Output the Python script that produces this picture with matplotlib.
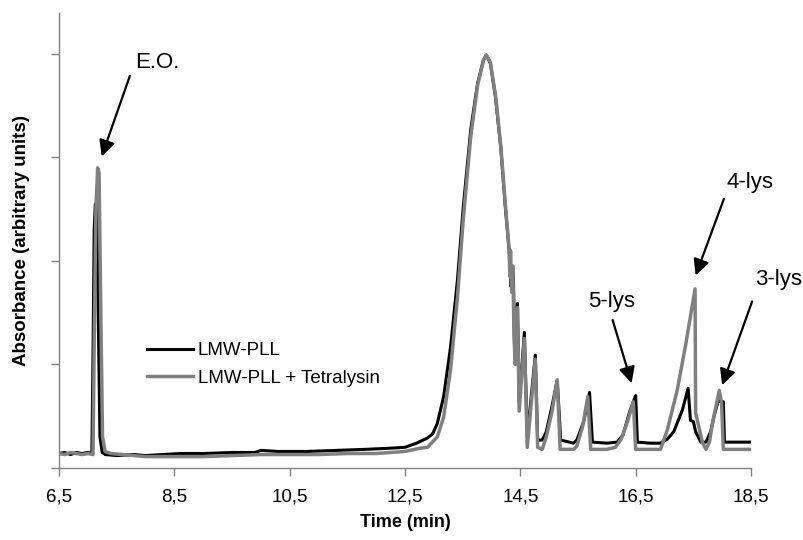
import matplotlib
matplotlib.use("Agg")
import matplotlib.pyplot as plt

plt.rcParams['font.family'] = ['Liberation Sans', 'DejaVu Sans']

# ---- data (time in min, absorbance in arbitrary units) ----
t_black = [6.50, 6.60, 6.70, 6.80, 6.90, 7.00, 7.07, 7.09, 7.11, 7.13, 7.155, 7.18, 7.21, 7.25,
           7.30, 7.50, 7.80, 8.00, 8.30, 8.60, 9.00, 9.50, 9.90, 10.00, 10.30, 10.80, 11.30,
           11.80, 12.20, 12.50, 12.70, 12.89, 12.98, 13.06, 13.17, 13.29, 13.41, 13.51, 13.64,
           13.76, 13.86, 13.91, 13.98, 14.07, 14.16, 14.24, 14.30, 14.32, 14.34, 14.36, 14.38,
           14.40, 14.45, 14.48, 14.57, 14.62, 14.76, 14.80, 14.88, 14.95, 15.05, 15.14, 15.20,
           15.42, 15.48, 15.60, 15.70, 15.75, 16.00, 16.18, 16.28, 16.40, 16.50, 16.53, 16.75,
           16.93, 17.05, 17.16, 17.31, 17.41, 17.45, 17.50, 17.54, 17.63, 17.72, 17.80, 17.86,
           17.95, 17.97, 18.02, 18.04, 18.50]
y_black = [0.14, 0.15, 0.13, 0.15, 0.14, 0.15, 0.14, 1.10, 2.30, 2.55, 2.50, 1.50, 0.30, 0.15,
           0.13, 0.12, 0.13, 0.12, 0.13, 0.14, 0.14, 0.15, 0.15, 0.17, 0.16, 0.16, 0.17,
           0.18, 0.19, 0.20, 0.24, 0.29, 0.33, 0.43, 0.69, 1.17, 1.82, 2.52, 3.27,
           3.72, 3.94, 3.99, 3.91, 3.58, 3.10, 2.52, 2.14, 2.00, 1.75, 1.95, 1.86,
           1.14, 1.59, 0.63, 1.31, 0.30, 1.09, 0.27, 0.27, 0.35, 0.60, 0.85, 0.27,
           0.24, 0.27, 0.45, 0.73, 0.25, 0.24, 0.25, 0.32, 0.55, 0.70, 0.25, 0.24,
           0.24, 0.28, 0.35, 0.56, 0.77, 0.46, 0.45, 0.35, 0.25, 0.25, 0.35, 0.50,
           0.69, 0.64, 0.64, 0.25, 0.25]

t_gray = [6.50, 6.60, 6.70, 6.80, 6.90, 7.00, 7.09, 7.11, 7.14, 7.17, 7.195, 7.225, 7.255, 7.30,
          7.40, 7.60, 8.00, 8.50, 9.00, 9.50, 10.00, 10.50, 11.00, 11.50, 12.00, 12.50, 12.75,
          12.89, 13.06, 13.17, 13.29, 13.41, 13.51, 13.64, 13.76, 13.86, 13.91, 13.98, 14.07,
          14.16, 14.24, 14.30, 14.32, 14.33, 14.35, 14.37, 14.39, 14.41, 14.45, 14.48, 14.57,
          14.62, 14.76, 14.80, 14.88, 14.95, 15.05, 15.14, 15.19, 15.42, 15.48, 15.58, 15.67,
          15.72, 16.00, 16.15, 16.25, 16.36, 16.46, 16.50, 16.75, 16.93, 17.05, 17.22, 17.37,
          17.53, 17.54, 17.57, 17.66, 17.72, 17.78, 17.83, 17.95, 17.99, 18.02, 18.50]
y_gray = [0.14, 0.13, 0.15, 0.14, 0.13, 0.14, 0.13, 1.20, 2.50, 2.90, 2.85, 1.50, 0.30, 0.16,
          0.14, 0.13, 0.11, 0.11, 0.11, 0.12, 0.13, 0.13, 0.13, 0.14, 0.14, 0.16, 0.19,
          0.20, 0.30, 0.49, 0.95, 1.65, 2.40, 3.20, 3.70, 3.94, 3.99, 3.92, 3.60,
          3.12, 2.55, 2.15, 1.85, 2.10, 1.70, 1.95, 1.30, 1.00, 1.55, 0.55, 1.25,
          0.20, 1.05, 0.20, 0.18, 0.30, 0.55, 0.85, 0.18, 0.18, 0.21, 0.40, 0.69,
          0.18, 0.18, 0.20, 0.28, 0.45, 0.64, 0.18, 0.18, 0.18, 0.37, 0.75, 1.20,
          1.73, 0.53, 0.46, 0.24, 0.18, 0.25, 0.43, 0.75, 0.63, 0.18, 0.18]

series_labels = ["LMW-PLL", "LMW-PLL + Tetralysin"]
x_ticks = [6.5, 8.5, 10.5, 12.5, 14.5, 16.5, 18.5]
x_ticklabels = ["6,5", "8,5", "10,5", "12,5", "14,5", "16,5", "18,5"]

# annotations: (text, text position, arrow tail, arrow tip)
annotations = [
    ("E.O.", (8.20, 3.92), (7.73, 3.79), (7.24, 3.01)),
    ("5-lys", (16.09, 1.61), (16.10, 1.43), (16.43, 0.82)),
    ("4-lys", (18.48, 2.76), (18.03, 2.60), (17.54, 1.86)),
    ("3-lys", (18.98, 1.82), (18.52, 1.61), (18.00, 0.80)),
]

fig = plt.figure(figsize=(8.04, 5.40), dpi=100)
ax = fig.add_axes([59 / 804, 72 / 540, 692 / 804, 455 / 540])

ax.plot(t_black, y_black, color="black", lw=2.2, label=series_labels[0], zorder=3)
ax.plot(t_gray, y_gray, color="#808080", lw=2.5, label=series_labels[1], zorder=4)

ax.set_xlim(6.5, 18.5)
ax.set_ylim(0, 4.396)
ax.set_xticks(x_ticks)
ax.set_xticklabels(x_ticklabels)
ax.set_yticks([0, 1, 2, 3, 4])
ax.set_yticklabels([])

for s in ("top", "right"):
    ax.spines[s].set_visible(False)
for s in ("left", "bottom"):
    ax.spines[s].set_color("#808080")
    ax.spines[s].set_linewidth(1.0)
ax.tick_params(axis="both", direction="out", length=6, width=1, color="#808080",
               labelsize=13.5, pad=9)

ax.set_xlabel("Time (min)", fontsize=13, fontweight="bold", labelpad=6)
ax.set_ylabel("Absorbance (arbitrary units)", fontsize=13.5, fontweight="bold", labelpad=6)

for text, tpos, tail, tip in annotations:
    ax.text(tpos[0], tpos[1], text, fontsize=16, ha="center", va="center", clip_on=False)
    ax.annotate("", xy=tip, xytext=tail,
                arrowprops=dict(arrowstyle="-|>", color="black", lw=1.6, mutation_scale=24,
                                shrinkA=0, shrinkB=0),
                annotation_clip=False)

leg = ax.legend(loc="upper left", bbox_to_anchor=(0.127, 0.277), frameon=False,
                fontsize=13.5, handlelength=2.45, handletextpad=0.27, labelspacing=0.55,
                borderpad=0, borderaxespad=0)

fig.savefig("out.png", dpi=100)
